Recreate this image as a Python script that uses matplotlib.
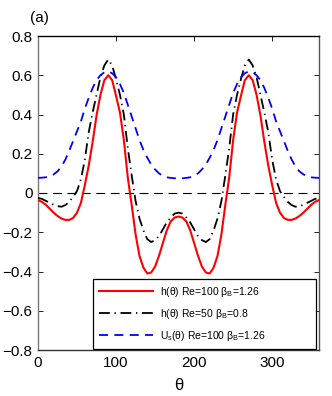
import numpy as np
import matplotlib
matplotlib.use("Agg")
import matplotlib.pyplot as plt

plt.rcParams['font.family'] = ['Liberation Sans', 'DejaVu Sans']
plt.rcParams['mathtext.default'] = 'regular'

theta = np.arange(0, 361, 5)

h_re100 = [-0.036, -0.045, -0.060, -0.080, -0.100, -0.117, -0.130, -0.137, -0.137, -0.127,
           -0.100, -0.050, 0.040, 0.140, 0.260, 0.395, 0.500, 0.575, 0.600, 0.575,
           0.495, 0.410, 0.270, 0.080, -0.060, -0.210, -0.320, -0.380, -0.410, -0.405,
           -0.375, -0.320, -0.255, -0.190, -0.145, -0.125, -0.120,
           -0.125, -0.145, -0.190, -0.255, -0.320, -0.375, -0.405, -0.410, -0.380, -0.320,
           -0.210, -0.060, 0.080, 0.270, 0.410, 0.495, 0.575, 0.600, 0.575, 0.500,
           0.395, 0.260, 0.140, 0.040, -0.050, -0.100, -0.127, -0.137, -0.137, -0.130,
           -0.117, -0.100, -0.080, -0.060, -0.045, -0.036]

h_re50 = [-0.025, -0.030, -0.040, -0.050, -0.060, -0.067, -0.070, -0.062, -0.045, -0.020,
          0.010, 0.070, 0.170, 0.310, 0.410, 0.500, 0.590, 0.650, 0.680, 0.650,
          0.580, 0.500, 0.400, 0.230, 0.090, -0.040, -0.130, -0.190, -0.235, -0.250,
          -0.240, -0.220, -0.185, -0.150, -0.125, -0.105, -0.100,
          -0.105, -0.125, -0.150, -0.185, -0.220, -0.240, -0.250, -0.235, -0.190, -0.130,
          -0.040, 0.090, 0.230, 0.400, 0.500, 0.580, 0.650, 0.680, 0.650, 0.590,
          0.500, 0.410, 0.310, 0.170, 0.070, 0.010, -0.020, -0.045, -0.062, -0.070,
          -0.067, -0.060, -0.050, -0.040, -0.030, -0.025]

us_re100 = [0.077, 0.078, 0.080, 0.085, 0.095, 0.110, 0.135, 0.170, 0.215, 0.265,
            0.315, 0.365, 0.430, 0.485, 0.535, 0.575, 0.600, 0.615, 0.620, 0.610,
            0.590, 0.555, 0.510, 0.450, 0.390, 0.330, 0.270, 0.220, 0.180, 0.145,
            0.120, 0.100, 0.088, 0.080, 0.077, 0.075, 0.075,
            0.075, 0.077, 0.080, 0.088, 0.100, 0.120, 0.145, 0.180, 0.220, 0.270,
            0.330, 0.390, 0.450, 0.510, 0.555, 0.590, 0.610, 0.620, 0.615, 0.600,
            0.575, 0.535, 0.485, 0.430, 0.365, 0.315, 0.265, 0.215, 0.170, 0.135,
            0.110, 0.095, 0.085, 0.080, 0.078, 0.077]

labels = ['h(θ) Re=100 β$_B$=1.26', 'h(θ) Re=50 β$_B$=0.8', 'U$_s$(θ) Re=100 β$_B$=1.26']
xticks = [0, 100, 200, 300]
yticks = [-0.8, -0.6, -0.4, -0.2, 0, 0.2, 0.4, 0.6, 0.8]

fig = plt.figure(figsize=(3.32, 3.96), dpi=100)
ax = fig.add_axes([38/332, 1-350/396, 281/332, 314/396])

ax.axhline(0, color='black', lw=0.8, dashes=(8, 5), zorder=1)
ax.plot(theta, h_re100, color='red', lw=1.5, label=labels[0], zorder=3)
ax.plot(theta, h_re50, color='black', lw=1.3, dashes=(6, 2.6, 0.7, 2.6), label=labels[1], zorder=3)
ax.plot(theta, us_re100, color='blue', lw=1.3, dashes=(5, 3.5), label=labels[2], zorder=3)

ax.set_xlim(0, 360)
ax.set_ylim(-0.8, 0.8)
ax.set_xticks(xticks)
ax.set_xticklabels([str(t) for t in xticks])
ax.set_yticks(yticks)
ax.set_yticklabels(['0' if v == 0 else ('%.1f' % v).replace('-', '\u2212') for v in yticks])
ax.tick_params(direction='in', length=3.5, width=0.6, top=True, right=True,
               labelsize=11, pad=4, colors='black')
for side, c in [('left', '#7a7a7a'), ('bottom', '#333333'), ('right', '#555555'), ('top', 'black')]:
    ax.spines[side].set_color(c)
    ax.spines[side].set_linewidth(1.0)

ax.set_xlabel('θ', fontsize=12, labelpad=6)
fig.text(30/332, 1-18/396, '(a)', fontsize=11, va='center', ha='left')

leg = ax.legend(loc='lower left', bbox_to_anchor=((93-38)/281, 1/314, (316-93)/281, 70/314),
                mode='expand', fontsize=7.5,
                frameon=True, fancybox=False, edgecolor='black', framealpha=1,
                handlelength=5.2, handletextpad=0.6, borderpad=0.6, labelspacing=0.75,
                borderaxespad=0)
leg.get_frame().set_linewidth(0.9)

fig.savefig('out.png', dpi=100)
